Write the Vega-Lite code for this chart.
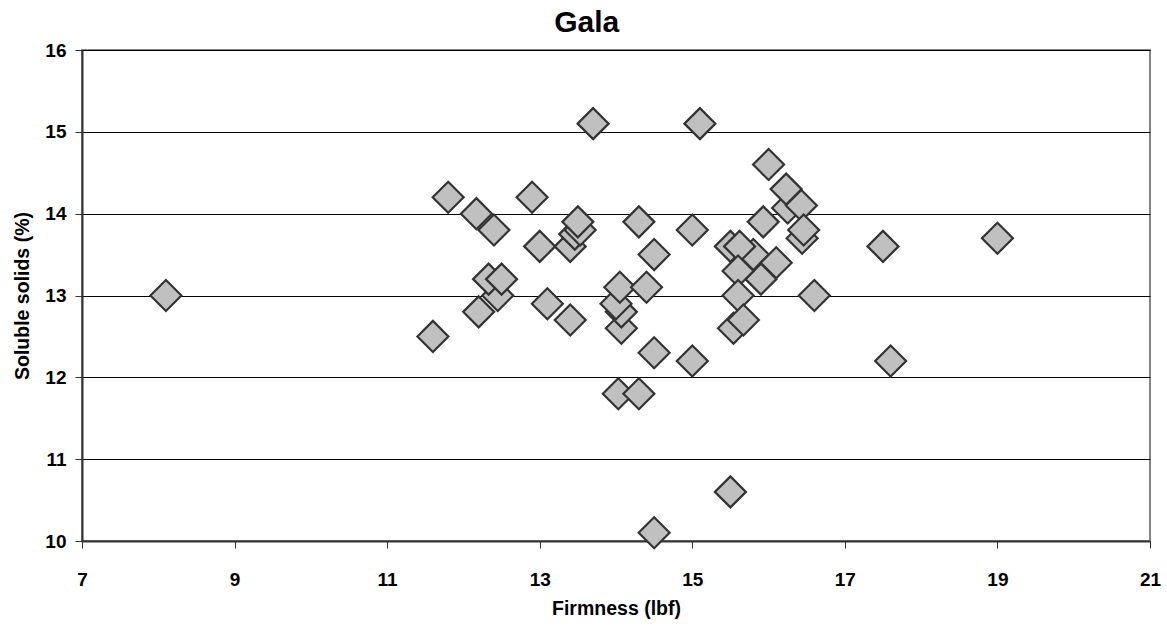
{
  "$schema": "https://vega.github.io/schema/vega-lite/v6.json",
  "width": 1068,
  "height": 491,
  "autosize": {"type": "none"},
  "padding": {"left": 82, "top": 50, "right": 17, "bottom": 85},
  "background": "white",
  "config": {
    "font": "Liberation Sans",
    "view": {"stroke": "#858585", "strokeWidth": 2}
  },
  "title": {
    "text": "Gala",
    "frame": "bounds",
    "anchor": "middle",
    "font": "Liberation Sans",
    "fontSize": 30,
    "fontWeight": "bold",
    "color": "black",
    "offset": 3
  },
  "data": {
    "values": [
      {"firmness": 8.1, "solids": 13.0},
      {"firmness": 11.6, "solids": 12.5},
      {"firmness": 11.8, "solids": 14.2},
      {"firmness": 12.17, "solids": 14.0},
      {"firmness": 12.4, "solids": 13.8},
      {"firmness": 12.9, "solids": 14.2},
      {"firmness": 13.0, "solids": 13.6},
      {"firmness": 13.4, "solids": 13.6},
      {"firmness": 13.46, "solids": 13.75},
      {"firmness": 13.53, "solids": 13.8},
      {"firmness": 13.5, "solids": 13.9},
      {"firmness": 13.7, "solids": 15.1},
      {"firmness": 14.3, "solids": 13.9},
      {"firmness": 14.5, "solids": 13.5},
      {"firmness": 15.0, "solids": 13.8},
      {"firmness": 15.1, "solids": 15.1},
      {"firmness": 12.45, "solids": 13.0},
      {"firmness": 12.33, "solids": 13.2},
      {"firmness": 12.5, "solids": 13.2},
      {"firmness": 12.2, "solids": 12.8},
      {"firmness": 13.1, "solids": 12.9},
      {"firmness": 13.4, "solids": 12.7},
      {"firmness": 14.07, "solids": 12.6},
      {"firmness": 14.07, "solids": 12.8},
      {"firmness": 14.0, "solids": 12.9},
      {"firmness": 14.05, "solids": 13.1},
      {"firmness": 14.4, "solids": 13.1},
      {"firmness": 14.5, "solids": 12.3},
      {"firmness": 15.0, "solids": 12.2},
      {"firmness": 14.03, "solids": 11.8},
      {"firmness": 14.3, "solids": 11.8},
      {"firmness": 15.5, "solids": 10.6},
      {"firmness": 14.5, "solids": 10.1},
      {"firmness": 16.0, "solids": 14.6},
      {"firmness": 16.25, "solids": 14.07},
      {"firmness": 16.23, "solids": 14.3},
      {"firmness": 16.43, "solids": 14.1},
      {"firmness": 15.93, "solids": 13.9},
      {"firmness": 16.44, "solids": 13.7},
      {"firmness": 16.46, "solids": 13.8},
      {"firmness": 17.5, "solids": 13.6},
      {"firmness": 15.5, "solids": 13.6},
      {"firmness": 15.8, "solids": 13.5},
      {"firmness": 16.1, "solids": 13.4},
      {"firmness": 15.62, "solids": 13.6},
      {"firmness": 15.9, "solids": 13.2},
      {"firmness": 15.6, "solids": 13.3},
      {"firmness": 15.6, "solids": 13.0},
      {"firmness": 16.6, "solids": 13.0},
      {"firmness": 15.54, "solids": 12.6},
      {"firmness": 15.67, "solids": 12.7},
      {"firmness": 17.6, "solids": 12.2},
      {"firmness": 19.0, "solids": 13.7}
    ]
  },
  "mark": {
    "type": "point",
    "shape": "diamond",
    "filled": true,
    "fill": "#c0c0c0",
    "fillOpacity": 1,
    "stroke": "#333333",
    "strokeWidth": 2.2,
    "size": 960,
    "opacity": 1
  },
  "encoding": {
    "x": {
      "field": "firmness",
      "type": "quantitative",
      "scale": {"domain": [7, 21], "nice": false, "zero": false},
      "axis": {
        "title": "Firmness (lbf)",
        "values": [7, 9, 11, 13, 15, 17, 19, 21],
        "grid": false,
        "domainColor": "#333333",
        "domainWidth": 2,
        "tickColor": "#333333",
        "tickWidth": 1,
        "tickSize": 7,
        "labelFont": "Liberation Sans",
        "labelFontSize": 19,
        "labelFontWeight": "bold",
        "labelColor": "black",
        "labelPadding": 22,
        "labelFlush": false,
        "titleFont": "Liberation Sans",
        "titleFontSize": 19.5,
        "titleFontWeight": "bold",
        "titleColor": "black",
        "titlePadding": 10
      }
    },
    "y": {
      "field": "solids",
      "type": "quantitative",
      "scale": {"domain": [10, 16], "nice": false, "zero": false},
      "axis": {
        "title": "Soluble solids (%)",
        "values": [10, 11, 12, 13, 14, 15, 16],
        "grid": true,
        "gridColor": "black",
        "gridWidth": 1,
        "gridOpacity": 1,
        "domainColor": "#333333",
        "domainWidth": 2,
        "tickColor": "#333333",
        "tickWidth": 1,
        "tickSize": 7,
        "labelFont": "Liberation Sans",
        "labelFontSize": 19,
        "labelFontWeight": "bold",
        "labelColor": "black",
        "labelPadding": 9,
        "labelFlush": false,
        "titleFont": "Liberation Sans",
        "titleFontSize": 19.5,
        "titleFontWeight": "bold",
        "titleColor": "black",
        "titlePadding": 12
      }
    }
  }
}
